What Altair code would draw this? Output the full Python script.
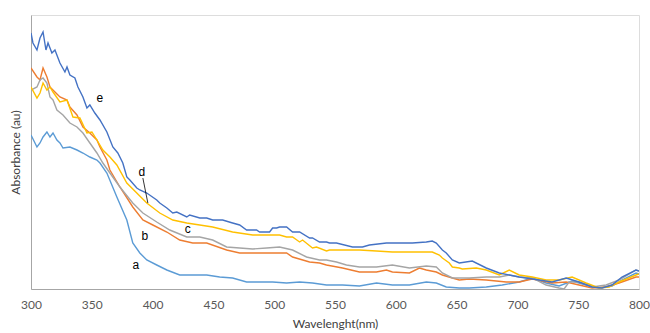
import altair as alt
import pandas as pd

# Series e (dark blue)
e_wl = [300, 301.6, 304.9, 307.4, 309.9, 312.3, 314, 317.2, 319.7, 323.8, 327.9, 329.6, 332, 336.1, 338.6,
        342.7, 346, 348.4, 352.5, 356.7, 362.4, 367.3, 371.4, 375.5, 378.8, 381.3, 387, 389.5, 395.2, 403.4,
        405.9, 411.7, 416.6, 419.9, 428.1, 430.5, 438.8, 444.5, 449.4, 457.6, 465.8, 471.6, 477.3, 485.5, 488,
        496.2, 498.7, 502, 504.4, 510.2, 515.1, 520.9, 529.1, 531.5, 537.3, 543, 545.5, 551.2, 564.4, 572.6,
        578.3, 592.3, 603, 613.6, 625.1, 630, 633.3, 638.3, 641.5, 646.5, 652.2, 662.9, 674.4, 685.1, 701.5,
        717.9, 728.6, 740.1, 750.7, 761.4, 769.6, 777.8, 786, 797.5, 800]
e_val = [256, 246, 239, 251, 257, 239, 246, 236, 239, 226, 217, 222, 214, 211, 202,
         192, 181, 184, 176, 169, 157, 142, 136, 126, 112, 109, 101, 99, 96, 89,
         86, 81, 76, 77, 72, 74, 71, 71, 69, 69, 66, 64, 59, 59, 57,
         57, 61, 61, 62, 62, 57, 57, 51, 51, 47, 47, 46, 46, 42, 42,
         44, 46, 46, 46, 47, 48, 46, 39, 36, 29, 26, 28, 21, 16, 12,
         9, 7, 11, 7, 2, 1, 4, 12, 19, 18]

# Series d (yellow)
d_wl = [300, 304.9, 307.4, 309.9, 313.1, 315.6, 318.1, 323.8, 329.6, 334.5, 340.2, 346, 350.1, 354.2, 359.1,
        364.9, 370.6, 378.8, 387, 395.2, 405.9, 416.6, 428.1, 438.8, 449.4, 465.8, 482.3, 498.7, 504.4, 510.2,
        515.1, 520.9, 523.3, 531.5, 534.8, 543, 545.5, 556.2, 570.1, 584.1, 597.2, 611.2, 625.1, 630, 635.8,
        638.3, 644, 646.5, 652.2, 654.7, 666.2, 674.4, 685.1, 693.3, 701.5, 712.2, 723.6, 734.3, 745, 756.5,
        767.2, 775.4, 783.6, 797.5, 800]
d_val = [202, 191, 196, 206, 199, 202, 197, 187, 189, 172, 171, 156, 157, 149, 139,
         132, 124, 106, 96, 86, 76, 69, 66, 64, 62, 57, 54, 54, 54, 52,
         52, 47, 49, 41, 42, 38, 39, 39, 39, 38, 37, 37, 37, 37, 34,
         31, 26, 22, 21, 20, 21, 19, 14, 19, 14, 12, 9, 9, 12, 6,
         1, 2, 7, 14, 15]

# Series c (grey)
c_wl = [300, 304.9, 307.4, 309.9, 313.1, 315.6, 318.1, 321.3, 326.3, 332, 337.8, 342.7, 348.4, 354.2, 359.1,
        364.9, 373.1, 383.7, 392, 403.4, 414.1, 428.1, 438.8, 449.4, 460.9, 471.6, 482.3, 493.8, 504.4, 515.1,
        526.6, 537.3, 543, 551.2, 559.4, 570.1, 584.1, 597.2, 611.2, 625.1, 633.3, 638.3, 646.5, 660.4, 674.4,
        685.1, 693.3, 701.5, 712.2, 723.6, 734.3, 738.4, 742.5, 750.7, 761.4, 772.9, 783.6, 797.5, 800]
c_val = [199, 202, 209, 211, 206, 192, 189, 179, 174, 166, 162, 156, 146, 136, 126,
         116, 102, 86, 76, 67, 59, 52, 52, 49, 42, 41, 40, 41, 42, 39,
         32, 29, 29, 27, 24, 22, 22, 24, 21, 23, 22, 16, 11, 11, 12,
         12, 14, 12, 11, 4, 1, 0, 7, 7, 2, 4, 9, 19, 18]

# Series b (orange)
b_wl = [300, 304.9, 307.4, 309.9, 313.1, 315.6, 319.7, 323.8, 329.6, 332, 337.8, 342.7, 348.4, 354.2, 356.7,
        362.4, 364.9, 373.1, 383.7, 392, 400.2, 411.7, 422.3, 433, 444.5, 460.9, 471.6, 488, 502, 510.2,
        515.1, 529.1, 537.3, 543, 556.2, 570.1, 584.1, 592.3, 597.2, 611.2, 619.4, 625.1, 633.3, 638.3, 646.5,
        652.2, 660.4, 674.4, 690.8, 701.5, 712.2, 728.6, 740.1, 750.7, 761.4, 772.9, 783.6, 797.5, 800]
b_val = [221, 212, 209, 221, 212, 202, 197, 192, 189, 182, 174, 162, 156, 149, 142,
         129, 119, 102, 82, 69, 64, 57, 49, 46, 46, 39, 36, 36, 36, 36,
         32, 27, 26, 24, 21, 17, 17, 19, 17, 16, 21, 19, 17, 14, 11,
         9, 10, 9, 7, 7, 10, 6, 7, 4, 1, 2, 6, 12, 12]

# Series a (light blue)
a_wl = [300, 304.9, 307.4, 309.9, 313.1, 315.6, 318.1, 321.3, 323.8, 326.3, 332, 337.8, 342.7, 348.4, 354.2,
        356.7, 362.4, 370.6, 378.8, 383.7, 389.5, 395.2, 403.4, 411.7, 422.3, 433, 444.5, 455.2, 465.8, 477.3,
        488, 498.7, 510.2, 520.9, 531.5, 543, 556.2, 570.1, 584.1, 597.2, 611.2, 625.1, 633.3, 641.5, 652.2,
        660.4, 674.4, 687.5, 701.5, 712.2, 723.6, 734.3, 745, 756.5, 767.2, 777.8, 786, 797.5, 800]
a_val = [154, 142, 146, 152, 157, 152, 156, 149, 146, 141, 142, 139, 136, 132, 129,
         126, 116, 92, 69, 46, 36, 29, 24, 19, 14, 14, 14, 12, 11, 7,
         7, 7, 6, 7, 6, 4, 4, 3, 6, 4, 4, 7, 6, 2, 1,
         1, 2, 4, 7, 11, 6, 3, 8, 4, 1, 3, 9, 16, 15]

series_names = ["a", "b", "c", "d", "e"]
series_colors = ["#5B9BD5", "#ED7D31", "#A5A5A5", "#FFC000", "#4472C4"]

# Curve labels
label_text = ["e", "d", "c", "b", "a"]
label_wl = [356.7, 391.1, 428.9, 393.6, 386.2]
label_val = [191, 117, 60, 53, 24]

# Leader line for "d"
leader_wl = [392, 396.1]
leader_val = [111, 86]

rows = []
for name, wl, val in [("a", a_wl, a_val), ("b", b_wl, b_val), ("c", c_wl, c_val),
                      ("d", d_wl, d_val), ("e", e_wl, e_val)]:
    for w, v in zip(wl, val):
        rows.append({"series": name, "wl": w, "val": v})
df = pd.DataFrame(rows)
df_lab = pd.DataFrame({"t": label_text, "wl": label_wl, "val": label_val})
df_lead = pd.DataFrame({"wl": [leader_wl[0]], "val": [leader_val[0]],
                        "wl2": [leader_wl[1]], "val2": [leader_val[1]]})

xscale = alt.Scale(domain=[300, 800], nice=False, zero=False)
yscale = alt.Scale(domain=[0, 274], nice=False, zero=False)

lines = alt.Chart(df).mark_line(strokeWidth=1.4, clip=True).encode(
    x=alt.X("wl:Q", scale=xscale,
            axis=alt.Axis(title="Wavelenght(nm)", values=list(range(300, 801, 50)),
                          grid=False, ticks=False, labelPadding=10, labelFontSize=12,
                          labelFlush=False, labelBound=False, labelOverlap=False,
                          labelColor="#595959", labelFont="Lato", titleFont="Lato",
                          titleFontSize=12, titleFontWeight="normal", titleColor="#404040",
                          titlePadding=8, domainColor="#A6A6A6")),
    y=alt.Y("val:Q", scale=yscale,
            axis=alt.Axis(title="Absorbance (au)", labels=False, ticks=False, grid=False,
                          titleFont="Lato", titleFontSize=12, titleFontWeight="normal",
                          titleColor="#404040", titlePadding=9, domainColor="#A6A6A6")),
    color=alt.Color("series:N", scale=alt.Scale(domain=series_names, range=series_colors), legend=None),
    order=alt.Order("wl:Q"),
)

labels = alt.Chart(df_lab).mark_text(font="Liberation Sans", fontSize=12, color="#000000").encode(
    x=alt.X("wl:Q", scale=xscale), y=alt.Y("val:Q", scale=yscale), text="t:N")

leader = alt.Chart(df_lead).mark_rule(color="#000000", strokeWidth=0.8).encode(
    x=alt.X("wl:Q", scale=xscale), x2="wl2:Q", y=alt.Y("val:Q", scale=yscale), y2="val2:Q")

chart = alt.layer(lines, leader, labels).properties(
    width=608, height=274,
    autosize=alt.AutoSizeParams(type="none"),
    padding={"left": 31, "top": 15, "right": 11, "bottom": 44},
).configure_view(stroke="#A6A6A6", strokeWidth=1).configure(background="white")

chart.save("out.html", embed_options={"renderer": "svg", "actions": False})
